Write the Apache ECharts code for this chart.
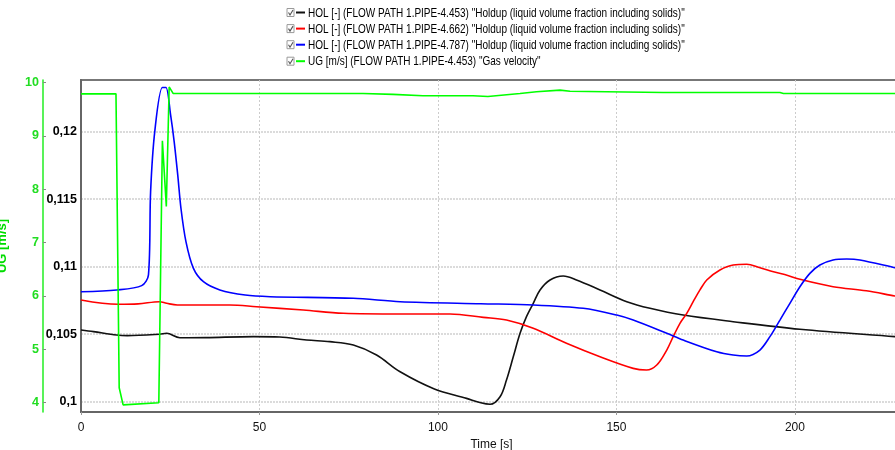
<!DOCTYPE html>
<html>
<head>
<meta charset="utf-8">
<script src="https://cdn.jsdelivr.net/npm/echarts@6/dist/echarts.min.js"></script>
<style>
  html, body { margin: 0; padding: 0; background: #fff; }
  #chart { width: 895px; height: 450px; }
</style>
</head>
<body>
<div id="chart"></div>
<script>
// Time axis ticks [s]
const timeTicks = [0, 50, 100, 150, 200];
// Holdup axis ticks [-]
const holTicks = [0.1, 0.105, 0.11, 0.115, 0.12];
// Gas velocity axis ticks [m/s]
const ugTicks = [4, 5, 6, 7, 8, 9, 10];

// HOL at PIPE-4.453
const hol453Time = [0, 3.5, 10, 13, 22, 24, 27.7, 35, 48.3, 55.7, 63.2, 69.7, 76.3, 82.8, 89.4, 99, 108, 112, 114.6, 117.4, 119.2, 121.1, 123, 124.8, 126.7, 128.6, 131.4, 135.1, 138.8, 145.4, 152.9, 159.4, 168.7, 182.7, 201.4, 228, 230];
const hol453 = [0.10531, 0.10519, 0.10494, 0.1049, 0.105, 0.10507, 0.10474, 0.10475, 0.10482, 0.10479, 0.10457, 0.10445, 0.1042, 0.10346, 0.10222, 0.10095, 0.10025, 0.09992, 0.09981, 0.10037, 0.10161, 0.10333, 0.10507, 0.1063, 0.10729, 0.10828, 0.10902, 0.10931, 0.10902, 0.10828, 0.10741, 0.10692, 0.10642, 0.10593, 0.10537, 0.10482, 0.10478];

// HOL at PIPE-4.662
const hol662Time = [0, 10.4, 16, 22, 24, 27, 41.7, 49.2, 62.3, 73.5, 89.4, 103.4, 112.7, 119.2, 126.7, 136, 145.4, 154.7, 158.4, 161.3, 164.1, 165.9, 167.8, 169.7, 171.5, 173.4, 175.3, 179, 182.7, 186.5, 190, 194, 198, 201.4, 210.7, 220, 228, 230];
const hol662 = [0.10754, 0.10722, 0.10725, 0.10741, 0.10729, 0.10717, 0.10717, 0.10704, 0.10679, 0.10655, 0.1065, 0.1065, 0.10625, 0.10605, 0.10544, 0.10433, 0.10333, 0.10247, 0.10235, 0.10272, 0.10383, 0.10482, 0.10581, 0.10655, 0.10741, 0.10828, 0.10902, 0.10976, 0.11013, 0.11018, 0.10995, 0.10963, 0.10935, 0.10907, 0.10852, 0.10822, 0.10783, 0.10775];

// HOL at PIPE-4.787
const hol787Time = [0, 10, 17, 18.9, 19.5, 20.7, 22.8, 23.8, 25.1, 26.1, 27.1, 28, 29.4, 31.5, 34.3, 38.9, 46, 53, 76.3, 89.4, 112, 126.7, 140.7, 150.1, 154.7, 164.1, 168.7, 178.1, 182.7, 186.5, 190.2, 193, 195.8, 198.6, 201.4, 204.2, 207, 210.7, 214.5, 218.2, 228, 230];
const hol787 = [0.10815, 0.10828, 0.1086, 0.1094, 0.11556, 0.1201, 0.12327, 0.12327, 0.12124, 0.11927, 0.1168, 0.11433, 0.11186, 0.10988, 0.10889, 0.10828, 0.1079, 0.10778, 0.10766, 0.10741, 0.10726, 0.10717, 0.10692, 0.10642, 0.10605, 0.10507, 0.10457, 0.1037, 0.10346, 0.10339, 0.10383, 0.10482, 0.10605, 0.10729, 0.10852, 0.10951, 0.11013, 0.1105, 0.11057, 0.1105, 0.10993, 0.10982];

// UG at PIPE-4.453
const ugTime = [0, 9.8, 10.7, 11.8, 21.8, 22.8, 23.9, 24.7, 25.8, 79, 87.4, 95.8, 109.8, 114, 123, 127.6, 134.2, 137, 147.2, 163.1, 195.8, 196.8, 230];
const ug = [9.79, 9.79, 4.28, 3.96, 4.0, 8.91, 7.68, 9.92, 9.8, 9.797, 9.78, 9.754, 9.754, 9.741, 9.797, 9.83, 9.861, 9.84, 9.83, 9.816, 9.816, 9.797, 9.797];

const seriesNames = [
  'HOL [-] (FLOW PATH 1.PIPE-4.453) "Holdup (liquid volume fraction including solids)"',
  'HOL [-] (FLOW PATH 1.PIPE-4.662) "Holdup (liquid volume fraction including solids)"',
  'HOL [-] (FLOW PATH 1.PIPE-4.787) "Holdup (liquid volume fraction including solids)"',
  'UG [m/s] (FLOW PATH 1.PIPE-4.453) "Gas velocity"'
];
const seriesColors = ['#111111', '#ff0000', '#0000ff', '#00ff00'];

const pairs = (ts, vs) => ts.map((t, i) => [t, vs[i]]);
const labelFont = '"Liberation Sans", Arial, sans-serif';

const chart = echarts.init(document.getElementById('chart'), null, { renderer: 'canvas' });

// legend rows: checkbox, colour swatch and a condensed caption
const rowY = [12.5, 28.6, 44.7, 61.2];
const legendRows = rowY.map((y, i) => ({
  type: 'group',
  x: 287, y: y,
  children: [
    { type: 'rect', shape: { x: 0, y: -4, width: 7, height: 8 }, style: { fill: '#fff', stroke: '#9a9a9a', lineWidth: 1 } },
    { type: 'polyline', shape: { points: [[1.5, 0], [3, 2.5], [6, -2.5]] }, style: { stroke: '#555', lineWidth: 1.1, fill: null } },
    { type: 'line', shape: { x1: 9, y1: 0, x2: 18, y2: 0 }, style: { stroke: seriesColors[i], lineWidth: 2 } },
    {
      type: 'text', x: 21, y: 0.5, scaleX: 0.77,
      style: { text: seriesNames[i], fill: '#000', font: '13px ' + labelFont, verticalAlign: 'middle', align: 'left' }
    }
  ]
}));

function holLabel(v) {
  return String(+v.toFixed(3)).replace('.', ',');
}

function lineSeries(name, color, data, axisIndex, smooth) {
  return {
    name: name, type: 'line', yAxisIndex: axisIndex,
    data: data, showSymbol: false, smooth: smooth,
    lineStyle: { color: color, width: 1.6 }, itemStyle: { color: color }
  };
}

chart.setOption({
  backgroundColor: '#ffffff',
  animation: false,
  textStyle: { fontFamily: labelFont },
  graphic: legendRows,
  grid: {
    left: 81, top: 80, right: -7, bottom: 38,
    show: true, borderColor: '#777', borderWidth: 2, backgroundColor: '#fff',
    containLabel: false,
    outerBoundsMode: 'none'
  },
  xAxis: {
    type: 'value',
    min: 0, max: 230,
    name: 'Time [s]',
    nameLocation: 'middle',
    nameGap: 26,
    nameTextStyle: { fontFamily: labelFont, fontSize: 12, color: '#111' },
    axisLine: { show: true, lineStyle: { color: '#666', width: 2 } },
    axisTick: { show: true, length: 3, lineStyle: { color: '#999' }, customValues: timeTicks },
    axisLabel: { customValues: timeTicks, color: '#111', fontSize: 12, margin: 10, fontFamily: labelFont },
    splitLine: { show: true, lineStyle: { color: '#cccccc', type: [2, 2], width: 1 } }
  },
  yAxis: [
    {
      type: 'value',
      min: 0.09924, max: 0.12383,
      position: 'left',
      axisLine: { show: true, lineStyle: { color: '#666', width: 2 } },
      axisTick: { show: false, customValues: holTicks },
      axisLabel: { customValues: holTicks, formatter: holLabel, color: '#000', fontWeight: 'bold', fontSize: 12.5, margin: 4, fontFamily: labelFont },
      splitLine: { show: true, lineStyle: { color: '#cfcfcf', type: [2, 1], width: 1.5 } }
    },
    {
      type: 'value',
      min: 3.826, max: 10.05,
      position: 'left',
      offset: 38,
      name: 'UG [m/s]',
      nameLocation: 'middle',
      nameGap: 34,
      nameTextStyle: { color: '#00dd00', fontWeight: 'bold', fontSize: 13, fontFamily: labelFont },
      axisLine: { show: true, lineStyle: { color: '#22ee22', width: 1.5 } },
      axisTick: { show: true, inside: true, length: 3, lineStyle: { color: '#888' }, customValues: ugTicks },
      axisLabel: { customValues: ugTicks, color: '#22dd22', fontWeight: 'bold', fontSize: 12.5, margin: 4, fontFamily: labelFont },
      splitLine: { show: false }
    }
  ],
  series: [
    lineSeries(seriesNames[0], seriesColors[0], pairs(hol453Time, hol453), 0, 0.35),
    lineSeries(seriesNames[1], seriesColors[1], pairs(hol662Time, hol662), 0, 0.35),
    lineSeries(seriesNames[2], seriesColors[2], pairs(hol787Time, hol787), 0, 0.3),
    lineSeries(seriesNames[3], seriesColors[3], pairs(ugTime, ug), 1, false)
  ]
});
</script>
</body>
</html>
